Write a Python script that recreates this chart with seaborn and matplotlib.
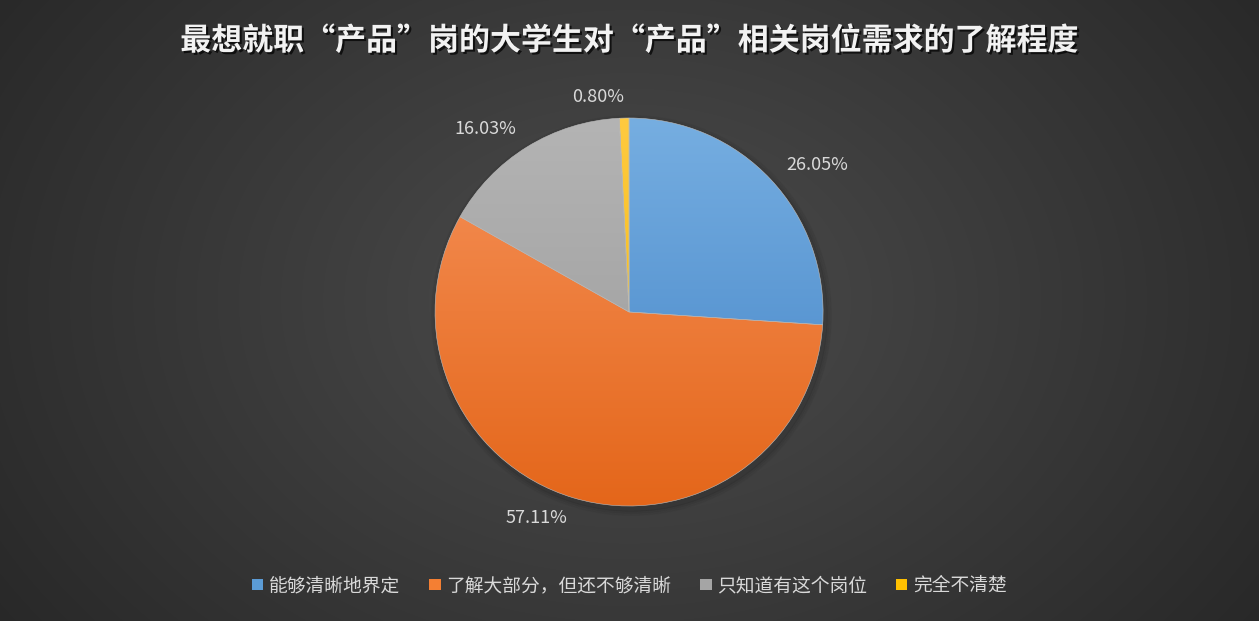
import matplotlib.pyplot as plt
import matplotlib.patheffects as pe
import numpy as np
import seaborn as sns
from matplotlib.colors import to_rgb
from matplotlib.patches import Patch

sns.set_theme(style="dark")
plt.rcParams["font.family"] = ["Noto Sans CJK SC", "DejaVu Sans"]

# Data
title = "最想就职“产品”岗的大学生对“产品”相关岗位需求的了解程度"
categories = ["能够清晰地界定", "了解大部分，但还不够清晰", "只知道有这个岗位", "完全不清楚"]
shares = [26.05, 57.11, 16.03, 0.80]
colors = ["#5B9BD5", "#F47F33", "#A5A5A5", "#FFC000"]
tops = ["#76aee1", "#f6925a", "#b4b4b4", "#ffca40"]
bottoms = ["#4283c6", "#e4661a", "#999999", "#f2b600"]
text_color = "#d9d9d9"

fig = plt.figure(figsize=(12.59, 6.21), dpi=100)

# radial gradient background
bg = fig.add_axes([0, 0, 1, 1], zorder=0)
yy, xx = np.mgrid[0:621, 0:1259]
dist = np.sqrt(((xx - 629) / 700) ** 2 + ((yy - 300) / 520) ** 2)
level = np.clip(0.30 - 0.13 * dist, 0.14, 0.30)
bg.imshow(np.dstack([level] * 3), aspect="auto", extent=[0, 1, 0, 1])
bg.set_axis_off()

# pie axes, square, centred on the pie
ax = fig.add_axes([0.2685, 0.029, 0.4623, 0.9372], zorder=1)
ax.set_facecolor("none")
wedges, texts = ax.pie(
    shares,
    labels=[f"{v:.2f}%" for v in shares],
    colors=colors,
    startangle=90,
    counterclock=False,
    labeldistance=1.11,
    wedgeprops={"linewidth": 0.4, "edgecolor": "#bdbdbd"},
    textprops={"color": text_color, "fontsize": 13},
)

# soft shadow under the pie
for i, a in enumerate([0.06, 0.04, 0.03]):
    shadow = plt.Circle((0.012, -0.018), 1.0 + 0.01 * (i + 1), color="black", alpha=a, zorder=0.5)
    ax.add_patch(shadow)

# vertical gradient fill for each slice
t = np.linspace(0, 1, 256)[:, None]
for w, top, bottom in zip(wedges, tops, bottoms):
    top_rgb = np.array(to_rgb(top))
    bottom_rgb = np.array(to_rgb(bottom))
    grad = top_rgb[None, :] * (1 - t) + bottom_rgb[None, :] * t
    im = ax.imshow(grad[:, None, :], extent=[-1, 1, -1, 1], origin="upper", aspect="auto", zorder=1)
    im.set_clip_path(w)
    w.set_facecolor("none")
    w.set_zorder(2)

ax.set_xlim(-1.5, 1.5)
ax.set_ylim(-1.5, 1.5)
ax.set_axis_off()

fig.text(
    0.5, 0.934, title,
    ha="center", va="center", fontsize=22.3, fontweight="bold", color="#f2f2f2",
    path_effects=[pe.withSimplePatchShadow(offset=(1.5, -1.5), shadow_rgbFace="black", alpha=0.7)],
)

handles = [Patch(facecolor=c, edgecolor="none") for c in colors]
fig.legend(
    handles, categories,
    loc="center", bbox_to_anchor=(0.5, 0.057), ncol=4, frameon=False,
    fontsize=13.5, labelcolor=text_color,
    handlelength=0.6, handleheight=0.6, handletextpad=0.3, columnspacing=1.55,
)

fig.savefig("out.png", dpi=100)
